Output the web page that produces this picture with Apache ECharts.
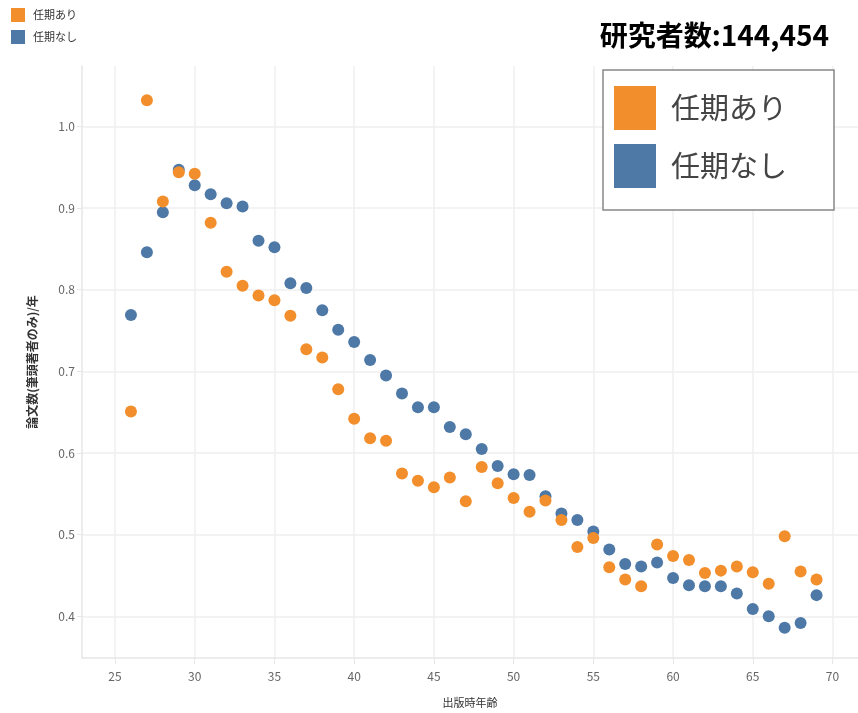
<!DOCTYPE html>
<html>
<head>
<meta charset="utf-8">
<script src="https://cdn.jsdelivr.net/npm/echarts@6/dist/echarts.min.js"></script>
<style>
html,body{margin:0;padding:0;background:#fff;}
#chart{width:858px;height:713px;}
</style>
</head>
<body>
<div id="chart"></div>
<script>
const ages = [26,27,28,29,30,31,32,33,34,35,36,37,38,39,40,41,42,43,44,45,46,47,48,49,50,51,52,53,54,55,56,57,58,59,60,61,62,63,64,65,66,67,68,69];
const withTerm = [0.651,1.032,0.908,0.944,0.942,0.882,0.822,0.805,0.793,0.787,0.768,0.727,0.717,0.678,0.642,0.618,0.615,0.575,0.566,0.558,0.570,0.541,0.583,0.563,0.545,0.528,0.542,0.518,0.485,0.496,0.460,0.445,0.437,0.488,0.474,0.469,0.453,0.456,0.461,0.454,0.440,0.498,0.455,0.445];
const withoutTerm = [0.769,0.846,0.895,0.947,0.928,0.917,0.906,0.902,0.860,0.852,0.808,0.802,0.775,0.751,0.736,0.714,0.695,0.673,0.656,0.656,0.632,0.623,0.605,0.584,0.574,0.573,0.547,0.526,0.518,0.504,0.482,0.464,0.461,0.466,0.447,0.438,0.437,0.437,0.428,0.409,0.400,0.386,0.392,0.426];
const xTicks = [25,30,35,40,45,50,55,60,65,70];
const yTicks = [0.4,0.5,0.6,0.7,0.8,0.9,1.0];
const seriesNames = ['任期あり','任期なし'];
const colors = {'任期あり':'#F28E2B','任期なし':'#4E79A7'};
const FONT = '"Noto Sans CJK JP", "Noto Sans", sans-serif';

const chart = echarts.init(document.getElementById('chart'), null, {renderer:'canvas'});
const gridColor = '#efefef';
chart.setOption({
  animation:false,
  textStyle:{fontFamily:FONT},
  title:{
    text:'研究者数:144,454',
    right:24, top:16,
    textStyle:{fontSize:28, fontWeight:'bold', color:'#000', fontFamily:FONT}
  },
  legend:[
    {
      data:seriesNames, orient:'vertical', left:11, top:8,
      itemWidth:14, itemHeight:14, itemGap:8, icon:'rect',
      padding:0,
      textStyle:{fontSize:11, color:'#333', padding:[0,0,0,3]}
    },
    {
      data:seriesNames, orient:'vertical', left:603, top:70,
      itemWidth:42, itemHeight:44, itemGap:14, icon:'rect',
      padding:[16,47,22,11],
      borderColor:'#888', borderWidth:1.5, backgroundColor:'#fff',
      textStyle:{fontSize:29, color:'#444', padding:[0,0,0,10]}
    }
  ],
  grid:{left:82, top:66, right:0, bottom:51, containLabel:false},
  xAxis:{
    type:'value', min:22.93, max:71.6,
    name:'出版時年齢', nameLocation:'middle', nameGap:39,
    nameTextStyle:{fontSize:11, color:'#333'},
    axisLine:{show:true, lineStyle:{color:'#e6e6e6', width:1.5}},
    axisTick:{show:true, length:6, lineStyle:{color:'#e6e6e6'}, customValues:xTicks},
    axisLabel:{customValues:xTicks, fontSize:12, color:'#666', margin:12},
    splitLine:{show:true, lineStyle:{color:gridColor, width:1.5}}
  },
  yAxis:{
    type:'value', min:0.349, max:1.074,
    name:'論文数(筆頭著者のみ)/年', nameLocation:'middle', nameGap:44,
    nameTextStyle:{fontSize:12, color:'#333', fontWeight:'bold'},
    axisLine:{show:true, lineStyle:{color:'#e6e6e6', width:1.5}},
    axisTick:{show:true, length:5, lineStyle:{color:'#e6e6e6'}, customValues:yTicks},
    axisLabel:{customValues:yTicks, fontSize:12, color:'#666', margin:7, formatter:v=>Number(v).toFixed(1)},
    splitLine:{show:true, lineStyle:{color:gridColor, width:1.5}}
  },
  series:[
    {
      name:'任期なし', type:'scatter', symbolSize:12,
      itemStyle:{color:colors['任期なし'], opacity:1},
      data:ages.map((a,i)=>[a, withoutTerm[i]])
    },
    {
      name:'任期あり', type:'scatter', symbolSize:12,
      itemStyle:{color:colors['任期あり'], opacity:1},
      data:ages.map((a,i)=>[a, withTerm[i]])
    }
  ]
});
</script>
</body>
</html>
